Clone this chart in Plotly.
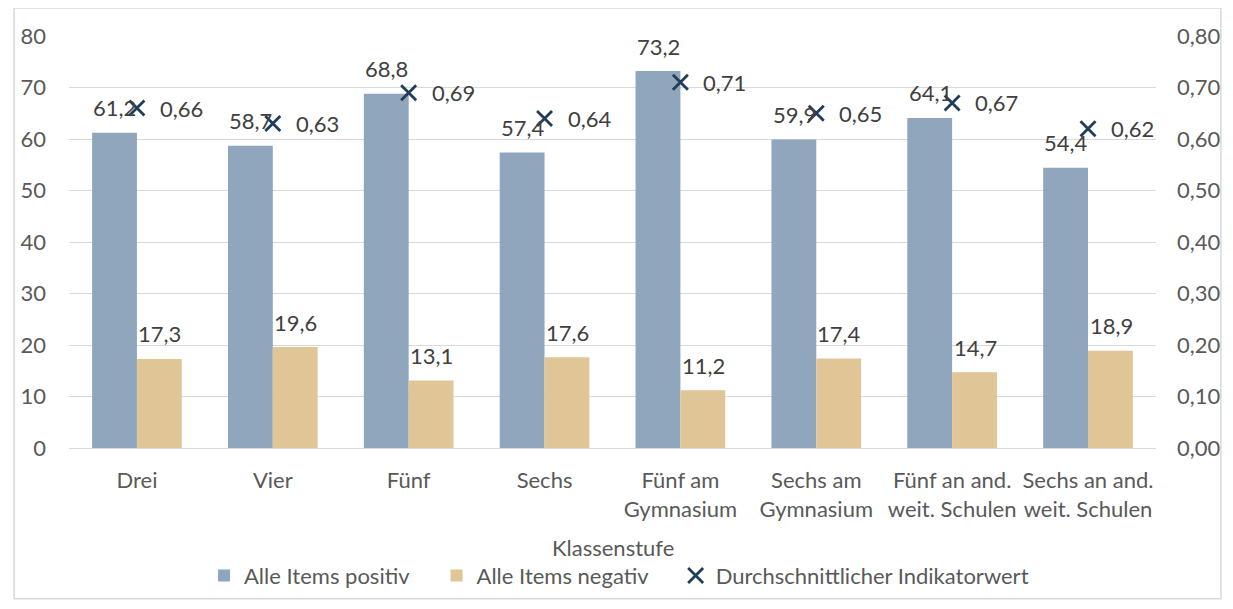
import plotly.graph_objects as go

categories = ["Drei", "Vier", "Fünf", "Sechs", "Fünf am<br>Gymnasium",
              "Sechs am<br>Gymnasium", "Fünf an and.<br>weit. Schulen",
              "Sechs an and.<br>weit. Schulen"]
positive = [61.2, 58.7, 68.8, 57.4, 73.2, 59.9, 64.1, 54.4]
negative = [17.3, 19.6, 13.1, 17.6, 11.2, 17.4, 14.7, 18.9]
indicator = [0.66, 0.63, 0.69, 0.64, 0.71, 0.65, 0.67, 0.62]

y_ticks = [0, 10, 20, 30, 40, 50, 60, 70, 80]
y2_ticks = [0, 0.1, 0.2, 0.3, 0.4, 0.5, 0.6, 0.7, 0.8]

blue = "#8FA6BC"
tan = "#E0C596"
navy = "#203D5C"
font = "Lato"
label_color = "#404040"
tick_color = "#595959"
fs = 22
pad = "\u00a0" * 4  # extra room between legend entries


def fmt(v, digits):
    return f"{v:.{digits}f}".replace(".", ",")


fig = go.Figure()
fig.add_trace(go.Bar(x=categories, y=positive, name="Alle Items positiv" + pad,
                     marker=dict(color=blue, line=dict(width=0))))
fig.add_trace(go.Bar(x=categories, y=negative, name="Alle Items negativ" + pad,
                     marker=dict(color=tan, line=dict(width=0))))
fig.add_trace(go.Scatter(x=categories, y=indicator, yaxis="y2", mode="markers",
                         name="Durchschnittlicher Indikatorwert",
                         marker=dict(symbol="x-thin", size=15, color=navy,
                                     line=dict(color=navy, width=2.8))))

annotations = []
for cat, p, n, ind in zip(categories, positive, negative, indicator):
    annotations.append(dict(x=cat, y=p, text=fmt(p, 1), showarrow=False,
                            xshift=-22, yshift=25, yanchor="middle",
                            font=dict(family=font, size=fs, color=label_color)))
    annotations.append(dict(x=cat, y=n, text=fmt(n, 1), showarrow=False,
                            xshift=23, yshift=25, yanchor="middle",
                            font=dict(family=font, size=fs, color=label_color)))
    annotations.append(dict(x=cat, y=ind, yref="y2", text=fmt(ind, 2), showarrow=False,
                            xanchor="left", xshift=21, yanchor="middle",
                            font=dict(family=font, size=fs, color=label_color)))

annotations.append(dict(x=0.5, y=-0.242, xref="paper", yref="paper", text="Klassenstufe",
                        showarrow=False, yanchor="middle",
                        font=dict(family=font, size=fs, color=tick_color)))

# page body adds an 8px offset, so the figure is drawn 8px smaller
fig.update_layout(
    width=1225, height=601,
    margin=dict(l=60, r=76, t=28, b=160),
    paper_bgcolor="white", plot_bgcolor="white",
    separators=",.",
    barmode="group", bargap=0.34, bargroupgap=0,
    font=dict(family=font, size=fs, color=tick_color),
    annotations=annotations,
    legend=dict(orientation="h", x=0.506, xanchor="center", y=-0.31, yanchor="middle",
                font=dict(family=font, size=fs, color=tick_color),
                itemwidth=30, tracegroupgap=0),
    xaxis=dict(showgrid=False, showline=True, linecolor="#D9D9D9", linewidth=1,
               ticks="", ticklabelstandoff=13,
               tickfont=dict(family=font, size=fs, color=tick_color)),
    yaxis=dict(range=[0, 80], tickvals=y_ticks, showgrid=True, gridcolor="#D9D9D9",
               gridwidth=1, zeroline=False, showline=False, ticks="",
               ticklabelstandoff=22,
               tickfont=dict(family=font, size=fs, color=tick_color)),
    yaxis2=dict(range=[0, 0.8], tickvals=y2_ticks, overlaying="y", side="right",
                showgrid=False, zeroline=False, showline=False, ticks="",
                tickformat=".2f", ticklabelstandoff=20,
                tickfont=dict(family=font, size=fs, color=tick_color)),
    shapes=[dict(type="rect", xref="paper", yref="paper",
                 x0=-0.0505, x1=1.0597, y0=-0.3656, y1=1.0678,
                 line=dict(color="#D9D9D9", width=1.5), layer="below")],
)

fig.write_html("out.html")
